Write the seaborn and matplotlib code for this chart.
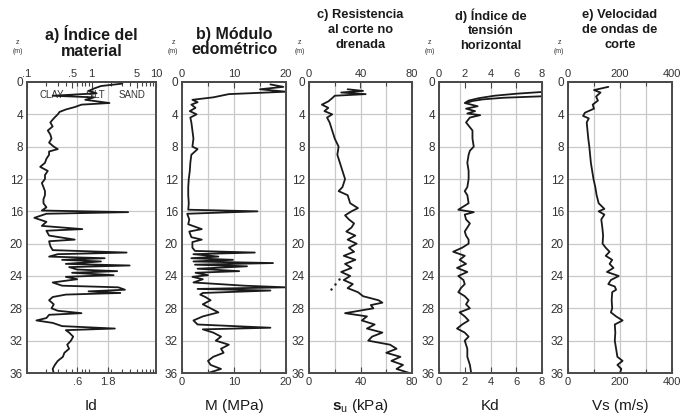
import pandas as pd
import seaborn as sns
import matplotlib.pyplot as plt
from matplotlib.ticker import NullFormatter

# ---- profiles (z = depth in m) ----
id_depth = [0.2, 0.5, 0.8, 1.1, 1.4, 1.7, 1.9, 2.2, 2.6, 2.8, 3.1, 3.4, 3.7, 4.0, 4.5, 5.0, 5.5, 6.0,
            6.5, 7.0, 7.5, 8.0, 8.3, 8.6, 9.0, 9.5, 10.0, 10.5, 11.0, 11.5, 12.0, 12.5, 13.0, 13.5,
            14.0, 14.5, 15.0, 15.5, 15.9, 16.1, 16.3, 16.8, 17.3, 17.8, 18.2, 18.4, 19.0, 19.5, 19.7,
            20.3, 20.8, 21.1, 21.3, 21.6, 21.8, 22.0, 22.2, 22.5, 22.7, 22.9, 23.2, 23.4, 23.6, 23.9,
            24.1, 24.4, 24.8, 25.2, 25.4, 25.7, 25.9, 26.1, 26.3, 26.6, 27.0, 27.5, 28.0, 28.3, 28.6,
            28.8, 29.2, 29.5, 29.8, 30.2, 30.5, 30.7, 31.0, 31.5, 32.0, 32.5, 33.0, 33.5, 34.0, 34.5,
            35.0, 35.5, 36.0]
id_vals = [3.0, 1.4, 1.1, 0.9, 1.2, 0.25, 1.1, 0.8, 1.9, 0.7, 0.55, 0.4, 0.32, 0.3, 0.26, 0.23, 0.25,
           0.21, 0.23, 0.24, 0.22, 0.26, 0.3, 0.22, 0.22, 0.2, 0.19, 0.16, 0.21, 0.19, 0.19, 0.17, 0.18,
           0.19, 0.19, 0.18, 0.18, 0.2, 0.17, 3.7, 0.2, 0.13, 0.2, 0.17, 0.72, 0.2, 0.22, 0.55, 0.22,
           0.23, 0.25, 3.5, 0.3, 0.22, 1.6, 0.35, 1.4, 0.4, 3.9, 0.45, 0.6, 2.5, 0.5, 2.2, 0.4, 0.6,
           0.25, 0.35, 2.6, 3.3, 0.9, 2.8, 0.4, 0.25, 0.22, 0.26, 0.24, 0.3, 0.7, 0.22, 0.2, 0.14,
           0.25, 0.35, 2.3, 0.4, 0.45, 0.52, 0.48, 0.42, 0.45, 0.38, 0.36, 0.3, 0.27, 0.25, 0.26]

m_depth = [0.3, 0.6, 0.9, 1.2, 1.5, 1.9, 2.2, 2.5, 2.8, 3.2, 3.6, 4.0, 4.4, 5, 6, 7, 8, 8.3, 9, 10, 11,
           12, 13, 14, 15, 15.8, 16.0, 16.3, 17, 17.6, 18.2, 18.5, 19.2, 19.5, 19.8, 20.5, 20.9, 21.1,
           21.3, 21.6, 21.8, 22.0, 22.2, 22.4, 22.6, 22.8, 23.1, 23.4, 23.6, 23.9, 24.1, 24.4, 24.8,
           25.2, 25.4, 25.6, 25.8, 26.1, 26.3, 26.6, 27.0, 27.5, 28.0, 28.5, 29.0, 29.5, 30.0, 30.4,
           30.6, 31.0, 31.5, 32.0, 32.5, 33.0, 33.5, 34.0, 34.5, 35.0, 35.5, 36.0]
m_vals = [17, 19.5, 15, 20, 9, 6, 2, 3, 1.8, 2.6, 1.5, 2.8, 1.6, 1.8, 2.0, 2.2, 2.0, 3.0, 1.8, 1.6,
          1.5, 1.3, 1.2, 1.2, 1.3, 1.2, 14.5, 1.0, 1.4, 1.2, 3.8, 1.4, 1.8, 3.8, 2.0, 2.0, 2.5, 14,
          2.2, 7, 1.8, 9.8, 2.2, 17.5, 2.5, 12.5, 3.0, 11, 2.6, 5, 2.0, 4, 2.2, 12, 20, 3, 17, 4, 3.5,
          4.5, 5.5, 4, 5.5, 7, 4, 2.2, 3, 17, 4, 6, 7.5, 6.5, 9, 7.5, 8, 6, 5, 5.5, 7.5, 5]

su_depth = [0.9, 1.1, 1.3, 1.5, 1.7, 2.0, 2.4, 2.8, 3.2, 3.6, 4.0, 4.4, 5.0, 6.0, 7.0, 8.0, 9.0, 10.0,
            11.0, 12.0, 13.0, 13.5, 14.0, 15.0, 15.6, 16.0, 16.5, 17.0, 17.5, 18.0, 18.5, 19.0, 19.5,
            20.0, 20.5, 21.0, 21.5, 22.0, 22.5, 23.0, 23.5, 24.0, 24.5, 25.0, 25.5, 26.0, 26.5, 27.0,
            27.3, 27.6, 28.0, 28.6, 29.0, 29.5, 30.0, 30.5, 31.0, 31.5, 32.0, 32.5, 33.0, 33.5, 34.0,
            34.5, 35.0, 35.5, 36.0]
su_vals = [30, 42, 25, 44, 20, 18, 15, 10, 15, 12, 18, 14, 16, 18, 20, 23, 22, 24, 26, 28, 26, 23, 30,
           32, 38, 33, 28, 31, 35, 33, 29, 36, 30, 37, 31, 35, 27, 36, 28, 33, 25, 32, 27, 34, 30, 38,
           42, 54, 57, 48, 50, 28, 45, 41, 51, 45, 57, 49, 46, 63, 68, 60, 71, 64, 73, 68, 78]
su_dot_depth = [24.4, 25.0, 25.6]
su_dot_vals = [23, 20, 17]

kd_depth = [1.2, 1.45, 1.7, 2.0, 2.3, 2.6, 3.0, 3.3, 3.6, 3.9, 4.1, 4.4, 5.0, 6.0, 7.0, 8.0, 8.5, 9.0,
            10.0, 11.0, 12.0, 13.0, 13.5, 14.0, 15.0, 15.8, 16.1, 16.4, 17.0, 17.5, 18.0, 18.5, 19.0,
            19.5, 20.0, 20.5, 21.0, 21.5, 22.0, 22.5, 23.0, 23.5, 24.0, 24.5, 25.0, 25.5, 26.0, 26.5,
            27.0, 27.5, 28.0, 28.5, 29.0, 29.5, 30.0, 30.5, 31.0, 31.5, 32.0, 33.0, 34.0, 35.0, 36.0]
kd_vals = [8.3, 6.0, 4.3, 3.1, 2.3, 2.0, 3.0, 2.1, 2.8, 2.2, 3.2, 2.4, 2.1, 2.6, 2.6, 2.7, 2.4, 2.3,
           2.2, 2.3, 2.3, 2.2, 2.0, 2.2, 2.3, 1.5, 2.7, 2.0, 2.1, 2.4, 2.2, 2.0, 2.1, 2.3, 2.3, 1.8,
           1.1, 2.0, 1.6, 2.1, 1.4, 2.2, 1.5, 1.9, 2.0, 1.7, 1.5, 2.0, 2.3, 2.1, 2.4, 1.6, 2.0, 2.3,
           1.8, 1.4, 2.0, 2.3, 2.0, 2.2, 2.2, 2.4, 2.5]
kd2_depth = [1.75, 1.95, 2.15, 2.35, 2.55]
kd2_vals = [8.3, 5.0, 3.4, 2.6, 2.2]

vs_depth = [0.6, 1.0, 1.3, 1.8, 2.3, 2.8, 3.3, 3.8, 4.2, 4.5, 5.0, 6.0, 7.0, 8.0, 9.0, 10.0, 11.0,
            12.0, 13.0, 14.0, 15.0, 15.7, 16.0, 16.4, 17.0, 18.0, 19.0, 20.0, 20.5, 21.0, 21.5, 22.0,
            22.5, 23.0, 23.5, 24.0, 24.5, 25.0, 25.3, 25.7, 26.0, 27.0, 28.0, 28.5, 29.0, 29.5, 30.0,
            31.0, 32.0, 33.0, 34.0, 34.5, 35.0, 35.5, 36.0]
vs_vals = [155, 100, 125, 108, 115, 95, 100, 65, 58, 80, 72, 75, 78, 82, 85, 88, 93, 98, 105, 110,
           118, 140, 118, 140, 128, 132, 135, 133, 145, 160, 145, 170, 160, 175, 150, 195, 165, 155,
           180, 185, 170, 168, 170, 165, 185, 210, 180, 182, 180, 185, 190, 210, 190, 205, 200]

depth_ticks = list(range(0, 37, 4))

sns.set_theme(style="white")
plt.rcParams['font.family'] = ['Liberation Sans Narrow', 'Liberation Sans', 'DejaVu Sans']
plt.rcParams['mathtext.fontset'] = 'custom'
plt.rcParams['mathtext.rm'] = 'Liberation Sans'
plt.rcParams['mathtext.bf'] = 'Liberation Sans:bold'

W, H = 680, 415
TOP, BOT = 82, 373
INK = '#1a1a1a'
GRID = '#c8c8c8'
TITLE_FONT = ['Liberation Sans', 'DejaVu Sans']


def box(left, right):
    return [left / W, 1 - BOT / H, (right - left) / W, (BOT - TOP) / H]


def profile(ax, vals, depth, lw=1.3):
    df = pd.DataFrame({'v': vals, 'z': depth})
    sns.lineplot(data=df, x='v', y='z', sort=False, estimator=None,
                 color=INK, lw=lw, ax=ax)


log_minor = [s * 10.0 ** e for e in (-1, 0) for s in range(2, 10)]

panels = [
    dict(edges=(27, 156), xlim=(0.1, 10), log=True,
         bot=[0.6, 1.8], bot_lab=['.6', '1.8'],
         top=[0.1, 0.5, 1, 5, 10], top_lab=['.1', '.5', '1', '5', '10'],
         minor=log_minor, guides=[0.6, 1.8],
         title='a) Índice del\nmaterial', tsize=11.5, xlabel='Id',
         series=[(id_vals, id_depth)]),
    dict(edges=(182, 286), xlim=(0, 20), log=False,
         bot=[0, 10, 20], bot_lab=['0', '10', '20'],
         top=[0, 10, 20], top_lab=['0', '10', '20'],
         minor=[5, 15], guides=[5, 10, 15],
         title='b) Módulo\nedométrico', tsize=11.5, xlabel='M (MPa)',
         series=[(m_vals, m_depth)]),
    dict(edges=(309, 412), xlim=(0, 80), log=False,
         bot=[0, 40, 80], bot_lab=['0', '40', '80'],
         top=[0, 40, 80], top_lab=['0', '40', '80'],
         minor=[20, 60], guides=[20, 40, 60],
         title='c) Resistencia\nal corte no\ndrenada', tsize=9.3,
         xlabel=r'$\mathbf{s}_\mathrm{u}$ (kPa)',
         series=[(su_vals, su_depth)]),
    dict(edges=(439, 542), xlim=(0, 8), log=False,
         bot=[0, 2, 4, 6, 8], bot_lab=['0', '2', '4', '6', '8'],
         top=[0, 2, 4, 6, 8], top_lab=['0', '2', '4', '6', '8'],
         minor=[], guides=[1.6, 4, 6],
         title='d) Índice de\ntensión\nhorizontal', tsize=9.3, xlabel='Kd',
         series=[(kd_vals, kd_depth), (kd2_vals, kd2_depth)]),
    dict(edges=(568, 672), xlim=(0, 400), log=False,
         bot=[0, 200, 400], bot_lab=['0', '200', '400'],
         top=[0, 200, 400], top_lab=['0', '200', '400'],
         minor=[100, 300], guides=[100, 200, 300],
         title='e) Velocidad\nde ondas de\ncorte', tsize=9.3, xlabel='Vs (m/s)',
         series=[(vs_vals, vs_depth)]),
]

fig = plt.figure(figsize=(W / 100, H / 100), dpi=100)
axes = []

for p in panels:
    left, right = p['edges']
    ax = fig.add_axes(box(left, right))
    axes.append(ax)
    if p['log']:
        ax.set_xscale('log')
    for vals, depth in p['series']:
        profile(ax, vals, depth)
    ax.set_xlim(*p['xlim'])
    ax.set_ylim(36, 0)
    ax.set(xlabel='', ylabel='')

    for g in p['guides']:
        ax.axvline(g, color=GRID, lw=0.9, zorder=0)
    for z in depth_ticks[1:-1]:
        ax.axhline(z, color=GRID, lw=0.9, zorder=0)

    ax.set_xticks(p['bot'], labels=p['bot_lab'])
    ax.set_xticks(p['minor'], minor=True)
    ax.xaxis.set_minor_formatter(NullFormatter())
    ax.set_yticks(depth_ticks)
    ax.tick_params(axis='x', which='both', direction='in', bottom=True, top=False,
                   length=4, width=0.8, color='#444', labelsize=8, pad=3,
                   labelcolor='#333')
    ax.tick_params(axis='x', which='minor', length=3)
    ax.tick_params(axis='y', length=0, labelsize=8.5, pad=3, labelcolor='#333')

    sec = ax.secondary_xaxis('top')
    sec.set_xticks(p['top'], labels=p['top_lab'])
    sec.set_xticks(p['minor'], minor=True)
    sec.xaxis.set_minor_formatter(NullFormatter())
    sec.tick_params(axis='x', which='both', direction='in', length=4, width=0.8,
                    color='#444', labelsize=8, pad=2, labelcolor='#333')
    sec.tick_params(axis='x', which='minor', length=3)

    for s in list(ax.spines.values()) + list(sec.spines.values()):
        s.set_color('#4a4a4a')
        s.set_linewidth(1.4)

    cx = (left + right) / 2 / W
    big = p['tsize'] > 10
    fig.text(cx, 1 - (42 if big else 30) / H, p['title'],
             ha='center', va='center', fontsize=p['tsize'], fontweight='bold',
             family=TITLE_FONT, linespacing=1.05 if big else 1.3, color='#1a1a1a')
    fig.text(cx, 1 - 406 / H, p['xlabel'], ha='center', va='center',
             fontsize=11, color='#1a1a1a')
    fig.text((left - 9) / W, 1 - 47 / H, 'z\n(m)', ha='center', va='center',
             fontsize=5, color='#333', linespacing=1.3)

    if p['log']:
        for name, xpos in [('CLAY', 0.24), ('SILT', 1.15), ('SAND', 4.2)]:
            ax.text(xpos, 1.6, name, ha='center', va='center', fontsize=7,
                    color='#333', zorder=1)

sns.scatterplot(x=su_dot_vals, y=su_dot_depth, s=3, color=INK, linewidth=0,
                ax=axes[2])

fig.savefig('out.png', dpi=100, facecolor='white')
